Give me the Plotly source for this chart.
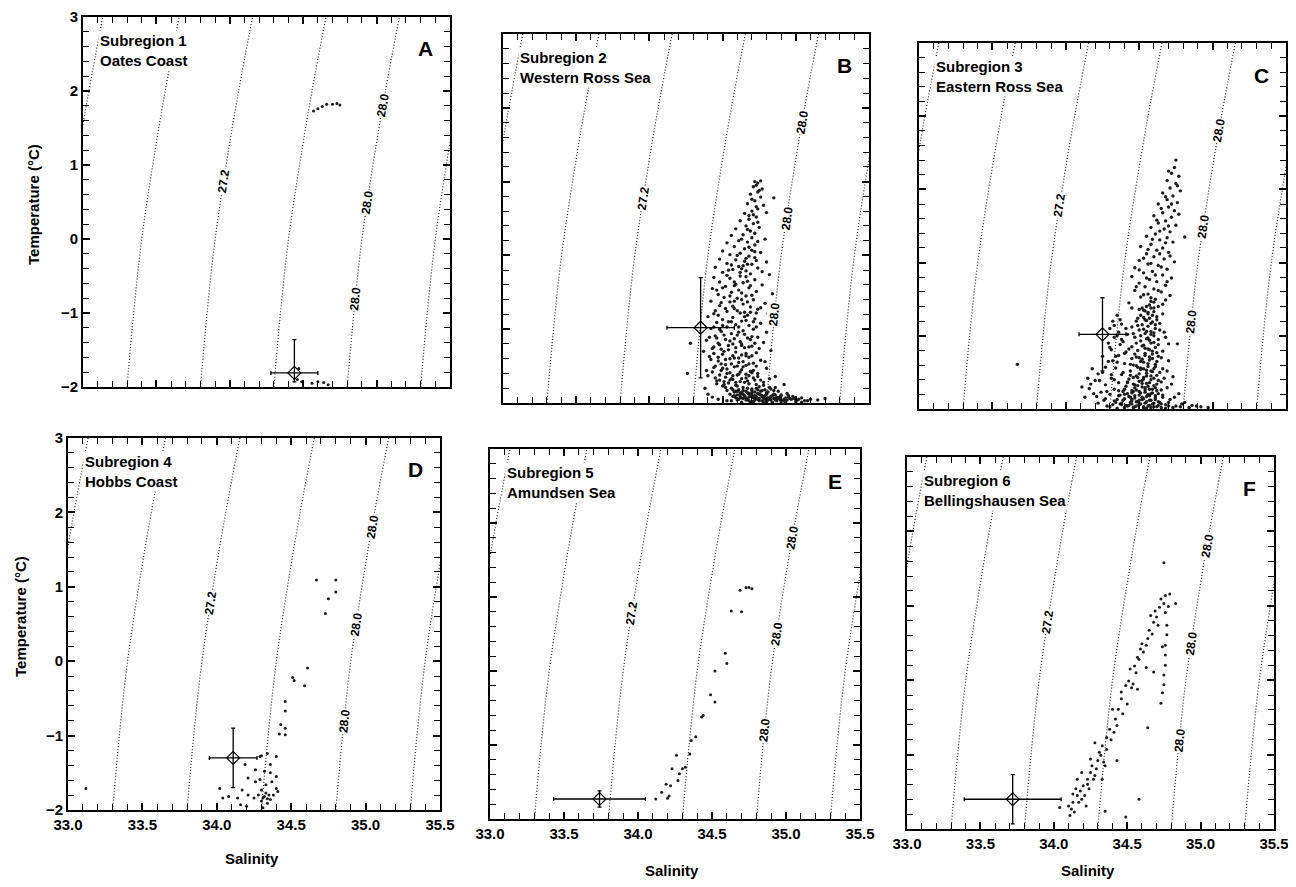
import math
import numpy as np
import plotly.graph_objects as go

W, H = 1296, 887
PAGE_MARGIN = 8  # the html body margin shifts the figure by 8 px

# ---------------- data ----------------
SAL_RANGE = [33.0, 35.5]
SAL_TICK_STEP = 0.5
SAL_MINOR_STEP = 0.1
TEMP_RANGE = [-2, 3]
TEMP_TICK_STEP = 1
TEMP_MINOR_STEP = 0.2

ISO_T = [-2, -1, 0, 1, 2, 3]
ISO_OFFSET = [0.0, 0.045, 0.10, 0.175, 0.26, 0.355]
ISO_BASE_S = [32.78, 33.3, 33.8, 34.3, 34.8, 35.3]
ISO_LABEL_272_T = [0.78]
ISO_LABEL_280_T = [-0.80, 0.50, 1.81]

REGION_NUM = ["Subregion 1", "Subregion 2", "Subregion 3", "Subregion 4", "Subregion 5", "Subregion 6"]
REGION_NAME = ["Oates Coast", "Western Ross Sea", "Eastern Ross Sea", "Hobbs Coast", "Amundsen Sea", "Bellingshausen Sea"]
PANEL_LETTER = ["A", "B", "C", "D", "E", "F"]

CROSS_S = [34.44, 34.35, 34.25, 34.11, 33.74, 33.72]
CROSS_T = [-1.81, -0.98, -0.98, -1.30, -1.73, -1.60]
CROSS_S_ERR = [0.16, 0.23, 0.16, 0.16, 0.31, 0.33]
CROSS_T_ERR_UP = [0.45, 0.68, 0.50, 0.40, 0.11, 0.33]
CROSS_T_ERR_DN = [0.12, 0.68, 0.50, 0.40, 0.11, 0.33]

A_PTS = [(34.57, 1.73), (34.60, 1.76), (34.63, 1.79), (34.66, 1.82), (34.70, 1.82), (34.73, 1.83), (34.75, 1.81),
         (34.47, -1.75), (34.46, -1.90), (34.49, -1.93), (34.56, -1.95), (34.60, -1.93), (34.64, -1.94), (34.67, -1.97)]

B_PTS = [
    (34.72, 1.00), (34.74, 0.98), (34.76, 1.01), (34.71, 0.93), (34.77, 0.90), (34.74, 0.86), (34.69, 0.83), (34.85, 0.78),
    (34.76, 0.79), (34.72, 0.74), (34.67, 0.70), (34.78, 0.68), (34.74, 0.63), (34.70, 0.60), (34.65, 0.57), (34.80, 0.58),
    (34.73, 0.52), (34.68, 0.49), (34.62, 0.47), (34.71, 0.43), (34.66, 0.40), (34.75, 0.38), (34.59, 0.36), (34.69, 0.33),
    (34.72, 0.30), (34.64, 0.28), (34.56, 0.27), (34.70, 0.24), (34.79, 0.22), (34.61, 0.20), (34.67, 0.18), (34.53, 0.17),
    (34.72, 0.14), (34.58, 0.12), (34.65, 0.09), (34.70, 0.07), (34.50, 0.06), (34.76, 0.04), (34.62, 0.03), (34.55, 0.01),
    (34.68, -0.01), (34.72, -0.03), (34.48, -0.05), (34.59, -0.06), (34.65, -0.08), (34.80, -0.09), (34.53, -0.11), (34.70, -0.12),
    (34.61, -0.15), (34.45, -0.16), (34.74, -0.17), (34.57, -0.19), (34.66, -0.21), (34.50, -0.23), (34.69, -0.25), (34.82, -0.26),
    (34.62, -0.28), (34.44, -0.30), (34.55, -0.31), (34.72, -0.33), (34.48, -0.36), (34.64, -0.37), (34.59, -0.39), (34.77, -0.40),
    (34.52, -0.42), (34.68, -0.44), (34.43, -0.45), (34.61, -0.47), (34.73, -0.49), (34.56, -0.50), (34.84, -0.52), (34.47, -0.53),
    (34.66, -0.55), (34.51, -0.57), (34.60, -0.58), (34.71, -0.60), (34.42, -0.62), (34.55, -0.63), (34.79, -0.65), (34.64, -0.66),
    (34.48, -0.68), (34.69, -0.70), (34.58, -0.72), (34.74, -0.73), (34.45, -0.75), (34.53, -0.76), (34.62, -0.78), (34.81, -0.79),
    (34.67, -0.81), (34.40, -0.83), (34.57, -0.84), (34.72, -0.86), (34.50, -0.87), (34.63, -0.89), (34.46, -0.91), (34.76, -0.92),
    (34.59, -0.94), (34.68, -0.95), (34.53, -0.97), (34.42, -0.99), (34.71, -1.00), (34.64, -1.02), (34.49, -1.03), (34.80, -1.04),
    (34.56, -1.06), (34.60, -1.08), (34.45, -1.09), (34.74, -1.11), (34.67, -1.12), (34.52, -1.14), (34.39, -1.15), (34.62, -1.17),
    (34.78, -1.18), (34.57, -1.20), (34.48, -1.21), (34.70, -1.23), (34.65, -1.25), (34.43, -1.26), (34.54, -1.28), (34.83, -1.29),
    (34.59, -1.31), (34.73, -1.32), (34.50, -1.34), (34.63, -1.35), (34.41, -1.37), (34.68, -1.38), (34.55, -1.40), (34.76, -1.42),
    (34.47, -1.43), (34.61, -1.45), (34.71, -1.46), (34.52, -1.48), (34.66, -1.49), (34.58, -1.51), (34.44, -1.52), (34.80, -1.53),
    (34.63, -1.55), (34.49, -1.56), (34.69, -1.57), (34.55, -1.59), (34.74, -1.60), (34.60, -1.62), (34.40, -1.63), (34.86, -1.64),
    (34.52, -1.65), (34.66, -1.66), (34.57, -1.68), (34.72, -1.69), (34.46, -1.70), (34.62, -1.71), (34.78, -1.72), (34.54, -1.73),
    (34.68, -1.74), (34.92, -1.75), (34.59, -1.76), (34.50, -1.77), (34.75, -1.78), (34.64, -1.79), (34.56, -1.80), (34.70, -1.81),
    (34.83, -1.81), (34.61, -1.82), (34.53, -1.83), (34.77, -1.83), (34.66, -1.84), (34.88, -1.84), (34.58, -1.85), (34.72, -1.85),
    (34.63, -1.86), (34.80, -1.86), (34.68, -1.87), (34.94, -1.87), (34.55, -1.88), (34.75, -1.88), (34.85, -1.88), (34.60, -1.89),
    (34.70, -1.89), (34.79, -1.90), (34.65, -1.90), (34.90, -1.90), (34.57, -1.91), (34.73, -1.91), (34.83, -1.91), (34.98, -1.91),
    (34.62, -1.92), (34.68, -1.92), (34.77, -1.92), (34.87, -1.92), (34.59, -1.93), (34.71, -1.93), (34.81, -1.93), (34.93, -1.93),
    (35.04, -1.93), (34.64, -1.94), (34.75, -1.94), (34.85, -1.94), (34.96, -1.94), (35.10, -1.95), (34.67, -1.95), (34.79, -1.95),
    (34.89, -1.95), (35.01, -1.96), (34.72, -1.96), (34.83, -1.96), (34.92, -1.97), (35.15, -1.96), (34.53, -1.97), (34.47, -1.95),
    (34.43, -1.92), (34.40, -1.88), (34.38, -1.80), (34.28, -1.19), (34.26, -1.60),
]
B_PTS_2 = [
    (34.73, 0.95), (34.75, 0.88), (34.70, 0.76), (34.73, 0.66), (34.68, 0.54), (34.74, 0.45), (34.67, 0.35), (34.63, 0.22),
    (34.74, 0.19), (34.68, 0.11), (34.60, 0.00), (34.66, -0.04), (34.73, -0.07), (34.56, -0.13), (34.63, -0.18), (34.77, -0.22),
    (34.53, -0.27), (34.67, -0.35), (34.58, -0.41), (34.46, -0.47), (34.70, -0.54), (34.63, -0.60), (34.49, -0.64), (34.57, -0.69),
    (34.76, -0.71), (34.44, -0.79), (34.65, -0.83), (34.54, -0.90), (34.73, -0.97), (34.48, -1.00), (34.61, -1.04), (34.41, -1.11),
    (34.69, -1.14), (34.55, -1.16), (34.47, -1.19), (34.63, -1.22), (34.75, -1.26), (34.51, -1.30), (34.44, -1.33), (34.66, -1.36),
    (34.58, -1.39), (34.79, -1.44), (34.49, -1.47), (34.64, -1.51), (34.53, -1.54), (34.71, -1.56), (34.43, -1.58), (34.61, -1.61),
    (34.68, -1.63), (34.56, -1.67), (34.82, -1.67), (34.48, -1.69), (34.65, -1.72), (34.73, -1.75), (34.60, -1.77), (34.52, -1.79),
    (34.86, -1.79), (34.67, -1.80), (34.74, -1.82), (34.59, -1.84), (34.81, -1.85), (34.70, -1.86), (34.64, -1.88), (34.90, -1.89),
    (34.76, -1.89), (34.58, -1.90), (34.84, -1.90), (34.69, -1.91), (34.63, -1.93), (34.78, -1.93), (34.88, -1.93), (34.99, -1.94),
    (34.73, -1.94), (34.61, -1.95), (34.82, -1.95), (34.94, -1.96), (34.68, -1.97), (34.77, -1.97), (34.87, -1.97), (35.06, -1.97),
    (34.71, -1.98), (34.80, -1.98), (34.90, -1.98), (34.74, -1.95), (34.66, -1.93), (34.86, -1.96), (34.80, -1.94), (34.72, -1.90),
    (34.95, -1.92), (35.02, -1.95), (35.20, -1.94), (34.62, -1.86), (34.57, -1.82), (34.51, -1.75), (34.45, -1.66), (34.39, -1.56),
    (34.42, -1.41), (34.37, -1.30), (34.65, -0.77), (34.69, -0.77), (34.73, -0.78), (34.67, -0.12), (34.71, 0.55), (34.72, 0.05),
]
B_PTS_3 = [
    (34.56, -1.97), (34.60, -1.96), (34.63, -1.99), (34.66, -1.96), (34.69, -1.99), (34.72, -1.93), (34.75, -1.97), (34.78, -1.99),
    (34.81, -1.96), (34.84, -1.99), (34.87, -1.94), (34.90, -1.96), (34.93, -1.99), (34.97, -1.95), (35.00, -1.98), (35.04, -1.99),
    (35.08, -1.97), (34.58, -1.91), (34.62, -1.89), (34.65, -1.92), (34.68, -1.88), (34.71, -1.92), (34.74, -1.87), (34.77, -1.90),
    (34.80, -1.88), (34.83, -1.92), (34.86, -1.89), (34.89, -1.92), (34.92, -1.95), (34.95, -1.90), (34.60, -1.84), (34.64, -1.83),
    (34.67, -1.86), (34.70, -1.83), (34.73, -1.80), (34.76, -1.84), (34.79, -1.82), (34.82, -1.79), (34.85, -1.83), (34.78, -1.76),
    (34.46, -1.74), (34.51, -1.71), (34.55, -1.69), (34.59, -1.72), (34.63, -1.67), (34.67, -1.70), (34.71, -1.66), (34.76, -1.69),
    (34.48, -1.62), (34.53, -1.60), (34.57, -1.63), (34.62, -1.58), (34.66, -1.61), (34.70, -1.59), (34.74, -1.64), (34.45, -1.50),
    (34.50, -1.53), (34.56, -1.47), (34.60, -1.50), (34.64, -1.44), (34.68, -1.47), (34.73, -1.50), (34.47, -1.38), (34.52, -1.41),
    (34.57, -1.36), (34.61, -1.39), (34.66, -1.33), (34.70, -1.36), (34.44, -1.24), (34.49, -1.27), (34.54, -1.22), (34.59, -1.25),
    (34.63, -1.20), (34.68, -1.24), (34.72, -1.19), (34.46, -1.12), (34.51, -1.08), (34.58, -1.13), (34.65, -1.07), (34.70, -1.10),
    (34.50, -0.95), (34.56, -0.90), (34.61, -0.97), (34.66, -0.88), (34.47, -0.81), (34.52, -0.72), (34.60, -0.75), (34.67, -0.63),
    (34.55, -0.55), (34.63, -0.51), (34.50, -0.44), (34.58, -0.36), (34.66, -0.29), (34.54, -0.20), (34.62, -0.23), (34.69, -0.41),
    (34.71, -0.90), (34.44, -0.97), (34.58, -0.62), (34.64, -0.14),
]

C_PTS = [
    (34.75, 1.40), (34.74, 1.30), (34.72, 1.22), (34.77, 1.18), (34.69, 1.12), (34.75, 1.08), (34.71, 1.02), (34.78, 0.98),
    (34.66, 0.95), (34.73, 0.91), (34.69, 0.86), (34.76, 0.82), (34.63, 0.80), (34.70, 0.76), (34.74, 0.71), (34.66, 0.68),
    (34.60, 0.64), (34.72, 0.62), (34.68, 0.57), (34.63, 0.54), (34.75, 0.51), (34.58, 0.48), (34.67, 0.46), (34.71, 0.42),
    (34.61, 0.39), (34.55, 0.36), (34.69, 0.34), (34.81, 0.35), (34.64, 0.31), (34.73, 0.28), (34.58, 0.25), (34.51, 0.22),
    (34.66, 0.20), (34.62, 0.17), (34.70, 0.14), (34.55, 0.12), (34.60, 0.08), (34.67, 0.05), (34.50, 0.03), (34.74, 0.01),
    (34.56, -0.02), (34.63, -0.04), (34.47, -0.07), (34.69, -0.09), (34.59, -0.12), (34.53, -0.14), (34.66, -0.17), (34.45, -0.19),
    (34.72, -0.21), (34.57, -0.23), (34.62, -0.26), (34.50, -0.28), (34.68, -0.31), (34.54, -0.33), (34.60, -0.36), (34.47, -0.38),
    (34.65, -0.40), (34.56, -0.43), (34.71, -0.45), (34.51, -0.47), (34.61, -0.50), (34.58, -0.53), (34.43, -0.55), (34.66, -0.57),
    (34.55, -0.60), (34.58, -0.62), (34.53, -0.65), (34.60, -0.67), (34.56, -0.70), (34.51, -0.72), (34.62, -0.74), (34.57, -0.76),
    (34.54, -0.78), (34.48, -0.80), (34.59, -0.81), (34.64, -0.83), (34.52, -0.85), (34.56, -0.87), (34.45, -0.88), (34.61, -0.90),
    (34.50, -0.92), (34.58, -0.94), (34.67, -0.95), (34.54, -0.97), (34.42, -0.98), (34.60, -1.00), (34.47, -1.02), (34.56, -1.03),
    (34.63, -1.05), (34.51, -1.07), (34.39, -1.08), (34.58, -1.10), (34.70, -1.11), (34.53, -1.13), (34.45, -1.15), (34.61, -1.16),
    (34.56, -1.18), (34.49, -1.20), (34.66, -1.21), (34.76, -1.11),
    (34.35, -0.72), (34.32, -0.80), (34.38, -0.84), (34.30, -0.90), (34.36, -0.95), (34.33, -1.02), (34.29, -1.10), (34.37, -1.12),
    (34.31, -1.19), (34.40, -1.24), (34.34, -1.28),
    (34.41, -1.22), (34.54, -1.24), (34.59, -1.25), (34.36, -1.27), (34.63, -1.28), (34.50, -1.30), (34.45, -1.31), (34.57, -1.33),
    (34.70, -1.34), (34.29, -1.35), (34.53, -1.36), (34.40, -1.38), (34.61, -1.39), (34.48, -1.41), (34.56, -1.42), (34.34, -1.44),
    (34.66, -1.45), (34.51, -1.46), (34.44, -1.48), (34.59, -1.49), (34.25, -1.50), (34.55, -1.51), (34.38, -1.53), (34.62, -1.54),
    (34.48, -1.55), (34.73, -1.56), (34.53, -1.57), (34.31, -1.58), (34.43, -1.59), (34.58, -1.60), (34.20, -1.61), (34.50, -1.62),
    (34.65, -1.63), (34.36, -1.64), (34.55, -1.65), (34.46, -1.66), (34.27, -1.67), (34.60, -1.68), (34.41, -1.69), (34.52, -1.70),
    (34.69, -1.71), (34.16, -1.72), (34.33, -1.73), (34.57, -1.73), (34.48, -1.74), (34.62, -1.75), (34.39, -1.76), (34.24, -1.77),
    (34.54, -1.77), (34.45, -1.78), (34.77, -1.79), (34.58, -1.79), (34.30, -1.80), (34.50, -1.81), (34.66, -1.81), (34.36, -1.82),
    (34.43, -1.83), (34.55, -1.83), (34.13, -1.84), (34.61, -1.85), (34.47, -1.85), (34.27, -1.86), (34.52, -1.87), (34.71, -1.87),
    (34.39, -1.88), (34.57, -1.88), (34.33, -1.89), (34.49, -1.90), (34.63, -1.90), (34.81, -1.91), (34.44, -1.91), (34.54, -1.92),
    (34.22, -1.92), (34.59, -1.93), (34.37, -1.93), (34.68, -1.94), (34.50, -1.94), (34.86, -1.95), (34.41, -1.95), (34.56, -1.96),
    (34.75, -1.96), (34.30, -1.97), (34.62, -1.97), (34.92, -1.97), (34.46, -1.98), (34.53, -1.98),
    (34.18, -1.45), (34.15, -1.58), (34.22, -1.52), (34.11, -1.70), (34.19, -1.79), (33.67, -1.39),
]
C_PTS_2 = [
    (34.57, -0.58), (34.54, -0.66), (34.59, -0.72), (34.55, -0.79), (34.61, -0.85), (34.53, -0.91), (34.58, -0.98), (34.55, -1.04),
    (34.60, -1.09), (34.52, -1.14), (34.57, -1.19), (34.62, -1.23), (34.54, -1.27), (34.59, -1.31), (34.51, -1.35), (34.56, -1.38),
    (34.61, -1.42), (34.53, -1.45), (34.58, -1.48), (34.50, -1.52), (34.55, -1.55), (34.60, -1.58), (34.52, -1.61), (34.57, -1.64),
    (34.62, -1.66), (34.49, -1.68), (34.54, -1.71), (34.59, -1.73), (34.46, -1.76), (34.51, -1.78), (34.56, -1.80), (34.61, -1.82),
    (34.44, -1.84), (34.53, -1.86), (34.58, -1.88), (34.48, -1.90), (34.64, -1.91), (34.51, -1.93), (34.57, -1.95), (34.42, -1.96),
    (34.60, -1.97), (34.55, -1.99), (34.47, -1.97), (34.65, -1.98), (34.70, -1.96), (34.38, -1.94), (34.34, -1.91), (34.45, -1.87),
    (34.40, -1.80), (34.36, -1.75), (34.47, -1.71), (34.42, -1.63), (34.33, -1.60), (34.46, -1.57), (34.39, -1.50), (34.49, -1.43),
    (34.44, -1.39), (34.35, -1.36), (34.48, -1.29), (34.43, -1.18), (34.38, -1.05), (34.46, -0.97), (34.41, -0.90), (34.49, -0.76),
    (34.52, -0.62), (34.63, -0.60), (34.66, -0.70), (34.64, -0.92), (34.68, -1.02), (34.65, -1.30), (34.69, -1.48), (34.67, -1.58),
    (34.72, -1.66), (34.74, -1.84), (34.79, -1.93), (34.84, -1.98), (34.89, -1.96), (34.97, -1.98), (34.26, -1.88), (34.21, -1.83),
    (34.28, -1.76), (34.17, -1.66), (34.23, -1.61), (34.31, -1.53), (34.27, -1.43), (34.32, -1.34), (34.25, -1.28), (34.30, -1.16),
    (34.35, -1.00), (34.33, -0.86), (34.37, -0.78),
    (34.70, 1.25), (34.76, 1.05), (34.68, 0.90), (34.72, 0.80), (34.65, 0.74), (34.77, 0.66), (34.62, 0.58), (34.70, 0.50),
    (34.64, 0.43), (34.59, 0.32), (34.68, 0.27), (34.56, 0.18), (34.64, 0.12), (34.71, 0.09), (34.53, 0.06), (34.58, -0.01),
    (34.65, -0.06), (34.50, -0.10), (34.61, -0.17), (34.55, -0.21), (34.69, -0.26), (34.48, -0.33), (34.63, -0.38), (34.53, -0.44),
    (34.58, -0.48), (34.68, -0.51), (34.45, -0.62), (34.60, -0.54),
]
C_PTS_3 = [
    (34.50, -0.64), (34.56, -0.68), (34.60, -0.62), (34.53, -0.75), (34.58, -0.83), (34.62, -0.78), (34.49, -0.86), (34.55, -0.94),
    (34.60, -0.96), (34.51, -1.00), (34.57, -1.06), (34.63, -1.12), (34.48, -1.10), (34.54, -1.17), (34.59, -1.21), (34.47, -1.25),
    (34.52, -1.32), (34.57, -1.29), (34.62, -1.35), (34.46, -1.40), (34.51, -1.44), (34.55, -1.47), (34.60, -1.45), (34.64, -1.50),
    (34.44, -1.54), (34.49, -1.57), (34.53, -1.59), (34.58, -1.55), (34.63, -1.61), (34.42, -1.64), (34.47, -1.67), (34.52, -1.65),
    (34.56, -1.69), (34.61, -1.71), (34.65, -1.74), (34.40, -1.73), (34.45, -1.75), (34.50, -1.76), (34.54, -1.74), (34.59, -1.78),
    (34.63, -1.79), (34.37, -1.81), (34.42, -1.79), (34.47, -1.82), (34.52, -1.84), (34.57, -1.82), (34.61, -1.87), (34.66, -1.84),
    (34.35, -1.87), (34.40, -1.86), (34.45, -1.89), (34.50, -1.88), (34.55, -1.90), (34.60, -1.92), (34.65, -1.93), (34.70, -1.91),
    (34.32, -1.94), (34.38, -1.92), (34.43, -1.95), (34.48, -1.96), (34.53, -1.97), (34.58, -1.98), (34.63, -1.95), (34.68, -1.99),
    (34.73, -1.98), (34.28, -1.96), (34.35, -1.99), (34.40, -1.98), (34.45, -1.93), (34.78, -1.97),
]

D_PTS = [(34.67, 1.09), (34.80, 1.09), (34.80, 0.93), (34.75, 0.84), (34.73, 0.64), (34.61, -0.09), (34.51, -0.22),
         (34.52, -0.26), (34.59, -0.33), (34.46, -0.54), (34.46, -0.67), (34.43, -0.85), (34.46, -0.90), (34.42, -0.98),
         (34.46, -0.99), (34.29, -1.28), (34.30, -1.27), (34.34, -1.24), (34.40, -1.28), (34.36, -1.39), (34.40, -1.55),
         (34.36, -1.50), (34.19, -1.39), (34.26, -1.46), (34.32, -1.48), (34.21, -1.57), (34.26, -1.62), (34.29, -1.59),
         (34.33, -1.66), (34.37, -1.62), (34.40, -1.71), (34.30, -1.73), (34.33, -1.77), (34.35, -1.80), (34.31, -1.84),
         (34.36, -1.86), (34.38, -1.80), (34.34, -1.91), (34.28, -1.80), (34.25, -1.84), (34.21, -1.80), (34.17, -1.73),
         (34.14, -1.84), (34.08, -1.82), (34.04, -1.84), (34.02, -1.71), (34.16, -1.93), (34.20, -1.95), (34.31, -1.97),
         (34.41, -1.75), (34.32, -1.82), (34.34, -1.85), (34.30, -1.88), (33.12, -1.71)]

E_PTS = [(34.75, 1.13), (34.73, 1.13), (34.77, 1.11), (34.69, 1.09), (34.63, 0.81), (34.70, 0.80), (34.59, 0.24),
         (34.60, 0.10), (34.52, 0.00), (34.49, -0.32), (34.52, -0.42), (34.44, -0.60), (34.43, -0.62), (34.39, -0.89),
         (34.36, -0.94), (34.35, -1.12), (34.26, -1.14), (34.23, -1.32), (34.28, -1.39), (34.30, -1.32), (34.32, -1.30),
         (34.27, -1.48), (34.19, -1.53), (34.22, -1.55), (34.16, -1.64), (34.21, -1.69), (34.20, -1.72), (34.12, -1.73)]

F_PTS = [(34.75, 1.58), (34.79, 1.16), (34.76, 1.14), (34.73, 1.09), (34.75, 1.03), (34.72, 0.98), (34.69, 0.93),
         (34.66, 0.87), (34.83, 1.03), (34.76, 0.91), (34.68, 0.78), (34.65, 0.67), (34.60, 0.49), (34.59, 0.42),
         (34.57, 0.31), (34.55, 0.19), (34.52, 0.15), (34.51, -0.01), (34.49, -0.07), (34.53, -0.10), (34.46, -0.25),
         (34.44, -0.39), (34.42, -0.52), (34.38, -0.66), (34.36, -0.77), (34.33, -0.88), (34.31, -0.97), (34.30, -1.08),
         (34.26, -1.15), (34.25, -1.24), (34.23, -1.33), (34.20, -1.42), (34.18, -1.49), (34.16, -1.55), (34.13, -1.64),
         (34.12, -1.73), (34.11, -1.82), (34.28, -0.84), (34.43, -0.61), (34.40, -0.39), (34.50, -0.32), (34.56, 0.10),
         (34.58, 0.28), (34.63, 0.47), (34.64, 0.56), (34.71, 0.74), (34.32, -1.01), (34.35, -1.15), (34.27, -1.33),
         (34.16, -1.33), (34.19, -1.24), (34.24, -1.46), (34.15, -1.46), (34.17, -1.64), (34.21, -1.55), (34.13, -1.53),
         (34.29, -1.19), (34.33, -1.33), (34.22, -1.69), (34.10, -1.69), (34.04, -1.71), (34.25, -1.06), (34.36, -0.93),
         (34.43, -1.08), (34.46, -0.16), (34.57, -0.12), (34.77, 0.74), (34.77, 0.61), (34.76, 0.47), (34.76, 0.34),
         (34.76, 0.20), (34.75, 0.07), (34.75, -0.06), (34.74, -0.17), (34.73, -0.31), (34.74, 0.45), (34.68, 0.11),
         (34.63, 0.17), (34.64, -0.64), (34.58, -1.60), (34.49, -1.84), (34.35, -1.76), (34.14, -1.77), (34.19, -1.60),
         (34.23, -1.40), (34.28, -1.28), (34.34, -1.10), (34.39, -0.80), (34.41, -0.70), (34.47, -0.45), (34.54, -0.05),
         (34.61, 0.38), (34.67, 0.62), (34.70, 0.85), (34.78, 0.99)]

PANEL_POINTS = [A_PTS, B_PTS + B_PTS_2 + B_PTS_3, C_PTS + C_PTS_2 + C_PTS_3, D_PTS, E_PTS, F_PTS]
MARKER_SIZE = [3.0, 3.4, 3.4, 3.0, 3.0, 3.0]

# ---------------- layout (pixel boxes on the page: left, right, top, bottom) ----------------
BOXES = [(83, 450, 17, 387), (503, 869, 34, 403), (919, 1286, 43, 409),
         (68, 440, 438, 810), (490, 860, 449, 819), (907, 1274, 457, 829)]

FONT = "Liberation Sans, Arial, sans-serif"

fig = go.Figure()
annotations = []
layout = {}


def px_x(px):
    return (px - PAGE_MARGIN) / W


def px_y(py):
    return 1 - (py - PAGE_MARGIN) / H


iso_off = np.array(ISO_OFFSET)
iso_t = np.array(ISO_T, dtype=float)
slope = np.gradient(iso_off, iso_t)

for i in range(6):
    l, r, t, b = BOXES[i]
    xa = "x" if i == 0 else f"x{i+1}"
    ya = "y" if i == 0 else f"y{i+1}"
    xkey = "xaxis" if i == 0 else f"xaxis{i+1}"
    ykey = "yaxis" if i == 0 else f"yaxis{i+1}"
    bottom_row = i >= 3
    left_col = i in (0, 3)

    for base in ISO_BASE_S:
        fig.add_trace(go.Scatter(
            x=[base + o for o in ISO_OFFSET], y=ISO_T, xaxis=xa, yaxis=ya,
            mode="lines", line=dict(color="#262626", width=1.2, dash="1px,2px", shape="spline"),
            hoverinfo="skip", showlegend=False))

    pxS = (r - l) / 2.5
    pxT = (b - t) / 5.0
    for base, temps, txt in ((ISO_BASE_S[2], ISO_LABEL_272_T, "27.2"), (ISO_BASE_S[4], ISO_LABEL_280_T, "28.0")):
        for tv in temps:
            sv = base + float(np.interp(tv, iso_t, iso_off))
            sl = float(np.interp(tv, iso_t, slope))
            ang = math.degrees(math.atan(sl * pxS / pxT))
            annotations.append(dict(
                x=sv, y=tv, xref=xa, yref=ya, text=f"<b>{txt}</b>", showarrow=False,
                textangle=-90 + ang, font=dict(family=FONT, size=12, color="black"),
                bgcolor="white", borderpad=0))

    pts = PANEL_POINTS[i]
    fig.add_trace(go.Scatter(
        x=[p[0] for p in pts], y=[p[1] for p in pts], xaxis=xa, yaxis=ya, mode="markers",
        marker=dict(size=MARKER_SIZE[i], color="#1c1c1c"), hoverinfo="skip", showlegend=False))

    fig.add_trace(go.Scatter(
        x=[CROSS_S[i]], y=[CROSS_T[i]], xaxis=xa, yaxis=ya, mode="markers",
        marker=dict(symbol="diamond-open", size=10, color="black", line=dict(width=1.2)),
        error_x=dict(type="data", array=[CROSS_S_ERR[i]], color="black", thickness=1.3, width=2),
        error_y=dict(type="data", array=[CROSS_T_ERR_UP[i]], arrayminus=[CROSS_T_ERR_DN[i]],
                     symmetric=False, color="black", thickness=1.3, width=2),
        hoverinfo="skip", showlegend=False))

    layout[xkey] = dict(
        domain=[px_x(l), px_x(r)], anchor=ya, range=SAL_RANGE,
        tickmode="linear", tick0=SAL_RANGE[0], dtick=SAL_TICK_STEP, tickformat=".1f",
        tickprefix="<b>", ticksuffix="</b>",
        showticklabels=bottom_row,
        tickfont=dict(family=FONT, size=15, color="black"),
        ticks="inside", ticklen=7, tickwidth=1.5, tickcolor="black",
        minor=dict(dtick=SAL_MINOR_STEP, ticks="inside", ticklen=6, tickwidth=1.4, tickcolor="black"),
        showline=True, linecolor="black", linewidth=1.7, mirror="allticks",
        showgrid=False, zeroline=False, fixedrange=True)
    layout[ykey] = dict(
        domain=[px_y(b), px_y(t)], anchor=xa, range=TEMP_RANGE,
        tickmode="linear", tick0=TEMP_RANGE[0], dtick=TEMP_TICK_STEP,
        tickprefix="<b>", ticksuffix="</b>",
        showticklabels=left_col,
        tickfont=dict(family=FONT, size=15, color="black"),
        ticks="inside", ticklen=7, tickwidth=1.5, tickcolor="black",
        minor=dict(dtick=TEMP_MINOR_STEP, ticks="inside", ticklen=6, tickwidth=1.4, tickcolor="black"),
        showline=True, linecolor="black", linewidth=1.7, mirror="allticks",
        showgrid=False, zeroline=False, fixedrange=True)

    annotations.append(dict(
        x=px_x(l + 15), y=px_y(t + 13), xref="paper", yref="paper", xanchor="left", yanchor="top",
        text=f"<b>{REGION_NUM[i]}</b><br><b>{REGION_NAME[i]}</b>", align="left", showarrow=False,
        font=dict(family=FONT, size=15, color="black"), bgcolor="white", borderpad=1))
    annotations.append(dict(
        x=px_x(r - 25), y=px_y(t + 32), xref="paper", yref="paper", xanchor="center", yanchor="middle",
        text=f"<b>{PANEL_LETTER[i]}</b>", showarrow=False,
        font=dict(family=FONT, size=21, color="black")))

for (cx, cy) in ((33, 205), (20, 617)):
    annotations.append(dict(x=px_x(cx), y=px_y(cy), xref="paper", yref="paper", xanchor="center", yanchor="middle",
                            text="<b>Temperature (°C)</b>", textangle=-90, showarrow=False,
                            font=dict(family=FONT, size=15, color="black")))
for (cx, cy) in ((252, 858), (672, 870), (1088, 870)):
    annotations.append(dict(x=px_x(cx), y=px_y(cy), xref="paper", yref="paper", xanchor="center", yanchor="middle",
                            text="<b>Salinity</b>", showarrow=False,
                            font=dict(family=FONT, size=15, color="black")))

fig.update_layout(
    width=W, height=H, margin=dict(l=0, r=0, t=0, b=0, autoexpand=False),
    paper_bgcolor="white", plot_bgcolor="white", showlegend=False,
    annotations=annotations, **layout)

fig.write_html("out.html")
